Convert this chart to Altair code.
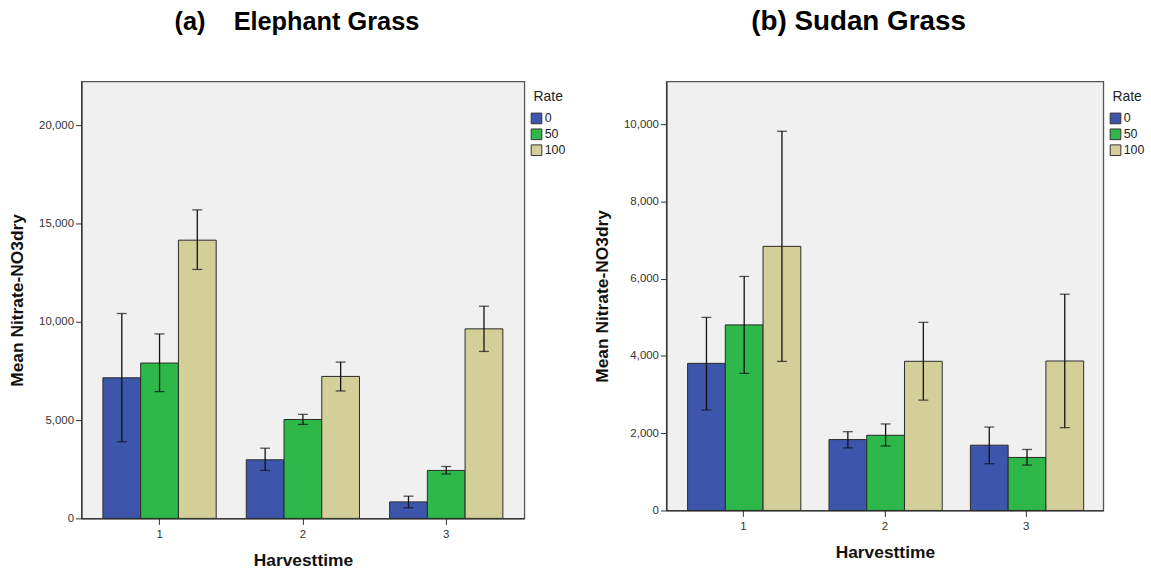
import altair as alt
import pandas as pd

harvest = ["1", "2", "3"]
rates = ["0", "50", "100"]
colors = ["#3D56AB", "#2EB84A", "#D4CF98"]

# Elephant Grass (a): order H1(0,50,100), H2(...), H3(...)
eg_mean = [7150, 7900, 14150, 2980, 5030, 7220, 840, 2440, 9640]
eg_low = [3900, 6450, 12660, 2440, 4780, 6480, 540, 2260, 8490]
eg_high = [10420, 9380, 15690, 3570, 5290, 7950, 1130, 2640, 10790]

# Sudan Grass (b)
sg_mean = [3810, 4806, 6840, 1836, 1947, 3863, 1690, 1373, 3871]
sg_low = [2600, 3550, 3860, 1620, 1670, 2860, 1210, 1175, 2145]
sg_high = [5000, 6060, 9820, 2040, 2240, 4870, 2160, 1580, 5600]

eg_ticks = [0, 5000, 10000, 15000, 20000]
sg_ticks = [0, 2000, 4000, 6000, 8000, 10000]


def make_df(mean, low, high):
    rows = []
    i = 0
    for h in harvest:
        for r in rates:
            rows.append({"Harvest": h, "Rate": r, "Mean": mean[i], "Low": low[i], "High": high[i]})
            i += 1
    return pd.DataFrame(rows)


YT = "Mean Nitrate-NO3dry"


def panel(df, title, tsize, dx, ymax, ticks, w, h, toff):
    yscale = alt.Scale(domain=[0, ymax], nice=False, zero=True)
    yaxis = alt.Axis(values=ticks, format=",d", title=YT, grid=False,
                     tickSize=6, labelPadding=2, titlePadding=12)
    base = alt.Chart(df).encode(
        x=alt.X("Harvest:N", sort=harvest,
                scale=alt.Scale(paddingInner=0.21, paddingOuter=0.15),
                axis=alt.Axis(title="Harvesttime", labelAngle=0, tickSize=6,
                              labelPadding=4, titlePadding=12)),
        xOffset=alt.XOffset("Rate:N", sort=rates,
                            scale=alt.Scale(paddingInner=0, paddingOuter=0)),
    )
    bars = base.mark_bar(stroke="#2a2a2a", strokeWidth=1).encode(
        y=alt.Y("Mean:Q", scale=yscale, axis=yaxis),
        color=alt.Color("Rate:N", sort=rates,
                        scale=alt.Scale(domain=rates, range=colors),
                        legend=alt.Legend(title="Rate", orient="none",
                                          legendX=w + 6, legendY=9,
                                          symbolType="square", symbolSize=115,
                                          symbolStrokeColor="#333333",
                                          symbolStrokeWidth=1,
                                          labelFontSize=12.5, titleFontSize=14,
                                          titleFontWeight="normal",
                                          titleAnchor="middle",
                                          titleColor="#222222", labelColor="#222222",
                                          titlePadding=8, rowPadding=0,
                                          labelOffset=2)),
    )
    rules = base.mark_rule(color="#111111", strokeWidth=1.3).encode(
        y=alt.Y("Low:Q", title=YT), y2="High:Q")
    cap_hi = base.mark_tick(color="#111111", size=10, thickness=1.3).encode(
        y=alt.Y("High:Q", title=YT))
    cap_lo = base.mark_tick(color="#111111", size=10, thickness=1.3).encode(
        y=alt.Y("Low:Q", title=YT))
    return alt.layer(bars, rules, cap_hi, cap_lo).properties(
        width=w, height=h,
        title=alt.Title(title, fontSize=tsize, fontWeight="bold", anchor="middle",
                        frame="group", dx=dx, offset=toff, color="#000000"),
    )


left = panel(make_df(eg_mean, eg_low, eg_high),
             "(a)\u00a0\u00a0\u00a0\u00a0Elephant Grass", 25.5, -6, 22222, eg_ticks, 446, 440, 46)
right = panel(make_df(sg_mean, sg_low, sg_high),
              "(b) Sudan Grass", 28, -26.5, 11111, sg_ticks, 440, 432, 45.5)

chart = alt.hconcat(left, right, spacing=26).resolve_scale(
    y="independent", x="independent", color="independent"
).properties(
    padding={"left": 8, "top": 5, "right": 5, "bottom": 5}
).configure(font="Liberation Sans").configure_view(
    fill="#F0F0F0", stroke="#555555", strokeWidth=1.3
).configure_axis(
    labelFont="Liberation Sans", labelFontSize=11.5, labelColor="#333333",
    titleFont="Liberation Sans", titleFontSize=17.5, titleFontWeight="bold",
    titleColor="#111111", tickColor="#333333", domainColor="#333333",
    domainWidth=1.3,
).configure_legend(labelFont="Liberation Sans", titleFont="Liberation Sans")

chart.save("out.html", embed_options={"renderer": "svg", "actions": False})
